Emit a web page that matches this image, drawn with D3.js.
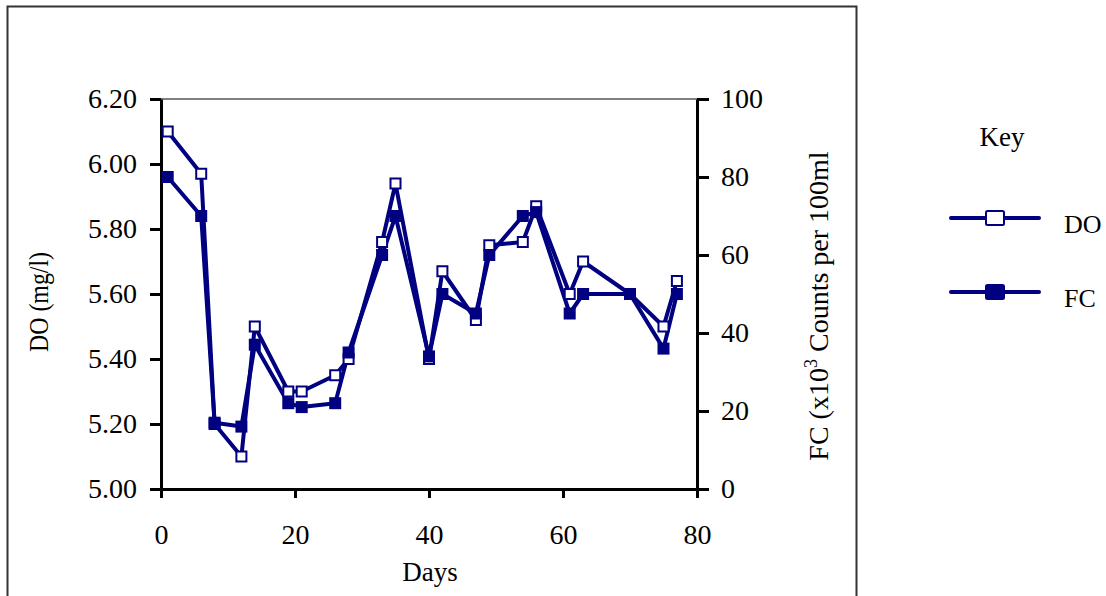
<!DOCTYPE html>
<html>
<head>
<meta charset="utf-8">
<script src="https://cdn.jsdelivr.net/npm/d3@7"></script>
<style>
  body { margin: 0; background: #fff; }
  svg { display: block; font-family: "Liberation Serif", "Times New Roman", serif; }
</style>
</head>
<body>
<svg width="1106" height="596"></svg>
<script>
// sampling days and the two measured series
const days = [1, 6, 8, 12, 14, 19, 21, 26, 28, 33, 35, 40, 42, 47, 49, 54, 56, 61, 63, 70, 75, 77];
const doValues = [6.10, 5.97, 5.20, 5.10, 5.50, 5.30, 5.30, 5.35, 5.40, 5.76, 5.94, 5.40, 5.67, 5.52, 5.75, 5.76, 5.87, 5.60, 5.70, 5.60, 5.50, 5.64];
const fcValues = [80, 70, 17, 16, 37, 22, 21, 22, 35, 60, 70, 34, 50, 45, 60, 70, 71, 45, 50, 50, 36, 50];

const xTicks = [0, 20, 40, 60, 80];
const doTicks = [5.0, 5.2, 5.4, 5.6, 5.8, 6.0, 6.2];
const fcTicks = [0, 20, 40, 60, 80, 100];
const legendItems = ["DO", "FC"];

const navy = "#000080";
const svg = d3.select("svg");

// outer frame (runs off the bottom of the picture)
svg.append("rect")
  .attr("x", 7.5).attr("y", 6.5)
  .attr("width", 849).attr("height", 640)
  .attr("fill", "none").attr("stroke", "#333").attr("stroke-width", 2);

const x = d3.scaleLinear().domain([0, 80]).range([161, 697]);
const yL = d3.scaleLinear().domain([5, 6.2]).range([489, 99]);
const yR = d3.scaleLinear().domain([0, 100]).range([489, 99]);

// plot area top border
svg.append("line")
  .attr("x1", x(0)).attr("x2", x(80))
  .attr("y1", yL(6.2)).attr("y2", yL(6.2))
  .attr("stroke", "#808080").attr("stroke-width", 2);

function styleAxis(g) {
  g.select(".domain").attr("stroke", "#000").attr("stroke-width", 3);
  g.selectAll(".tick line").attr("stroke", "#000").attr("stroke-width", 3);
  g.selectAll(".tick text").attr("fill", "#000").style("font-size", "28px")
    .style("font-family", "'Liberation Serif', serif");
}

svg.append("g")
  .attr("transform", `translate(${x(0)},0)`)
  .call(d3.axisLeft(yL).tickValues(doTicks).tickFormat(d3.format(".2f")).tickSize(11).tickSizeOuter(0).tickPadding(13))
  .call(styleAxis);

svg.append("g")
  .attr("transform", `translate(${x(80)},0)`)
  .call(d3.axisRight(yR).tickValues(fcTicks).tickSize(12).tickSizeOuter(0).tickPadding(12))
  .call(styleAxis);

svg.append("g")
  .attr("transform", `translate(0,${yL(5)})`)
  .call(d3.axisBottom(x).tickValues(xTicks).tickSize(9).tickSizeOuter(0).tickPadding(26))
  .call(styleAxis);

// axis titles
svg.append("text")
  .attr("transform", `translate(48,302) rotate(-90)`)
  .attr("text-anchor", "middle")
  .attr("textLength", 100).attr("lengthAdjust", "spacingAndGlyphs")
  .style("font-size", "27px")
  .text("DO (mg/l)");

const fcLabel = svg.append("text")
  .attr("transform", `translate(828,306) rotate(-90)`)
  .attr("text-anchor", "middle")
  .style("font-size", "28px");
fcLabel.append("tspan").text("FC (x10");
fcLabel.append("tspan").attr("dy", -11).style("font-size", "18px").text("3");
fcLabel.append("tspan").attr("dy", 11).text(" Counts per 100ml");

svg.append("text")
  .attr("x", 430).attr("y", 581)
  .attr("text-anchor", "middle")
  .style("font-size", "27px")
  .text("Days");

// series lines
const doLine = d3.line().x((d, i) => x(days[i])).y(d => yL(d));
const fcLine = d3.line().x((d, i) => x(days[i])).y(d => yR(d));

svg.append("path").datum(doValues)
  .attr("d", doLine).attr("fill", "none")
  .attr("stroke", navy).attr("stroke-width", 4).attr("stroke-linejoin", "round");
svg.append("path").datum(fcValues)
  .attr("d", fcLine).attr("fill", "none")
  .attr("stroke", navy).attr("stroke-width", 4).attr("stroke-linejoin", "round");

const ms = 10;
svg.append("g").selectAll("rect")
  .data(doValues).enter().append("rect")
  .attr("x", (d, i) => x(days[i]) - ms / 2)
  .attr("y", d => yL(d) - ms / 2)
  .attr("width", ms).attr("height", ms)
  .attr("fill", "#fff").attr("stroke", navy).attr("stroke-width", 2);

svg.append("g").selectAll("rect")
  .data(fcValues).enter().append("rect")
  .attr("x", (d, i) => x(days[i]) - ms / 2)
  .attr("y", d => yR(d) - ms / 2)
  .attr("width", ms).attr("height", ms)
  .attr("fill", navy).attr("stroke", navy).attr("stroke-width", 2);

// legend
svg.append("text")
  .attr("x", 1002).attr("y", 146)
  .attr("text-anchor", "middle")
  .style("font-size", "27px")
  .text("Key");

const leg = svg.append("g").selectAll("g")
  .data(legendItems).enter().append("g")
  .attr("transform", (d, i) => `translate(0,${218 + i * 74})`);

leg.append("line")
  .attr("x1", 951).attr("x2", 1039)
  .attr("stroke", navy).attr("stroke-width", 4).attr("stroke-linecap", "round");
leg.append("rect")
  .attr("x", 986).attr("y", -7)
  .attr("width", 18).attr("height", 14).attr("rx", 1.5)
  .attr("fill", (d, i) => i === 0 ? "#fff" : navy)
  .attr("stroke", navy).attr("stroke-width", 2);
leg.append("text")
  .attr("x", 1064).attr("y", 15)
  .style("font-size", "26px")
  .text(d => d);
</script>
</body>
</html>
